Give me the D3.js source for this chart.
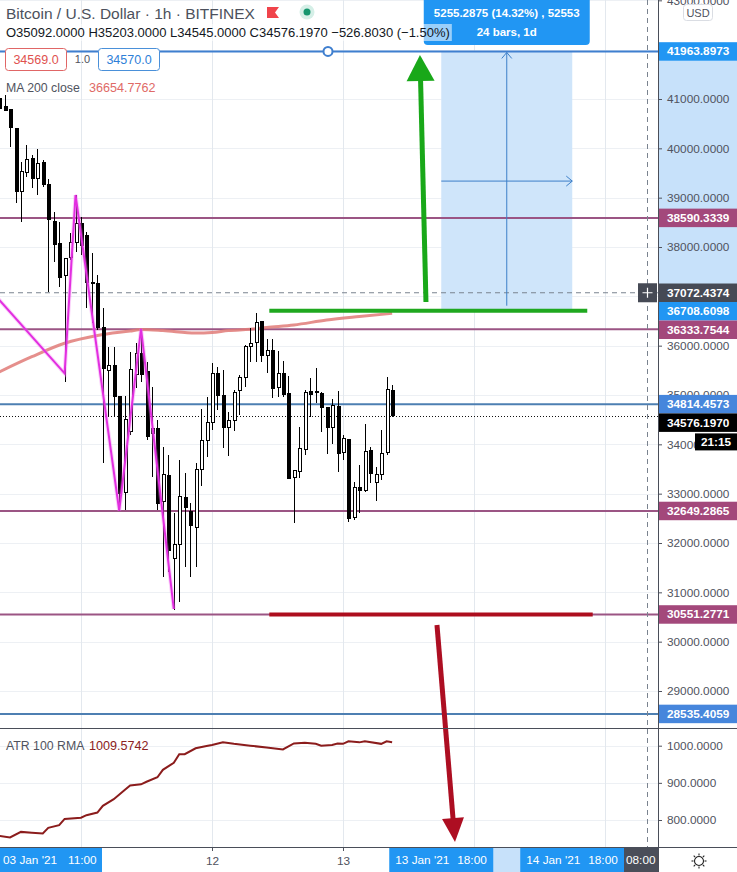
<!DOCTYPE html>
<html>
<head>
<meta charset="utf-8">
<script src="https://cdn.jsdelivr.net/npm/d3@7/dist/d3.min.js"></script>
<style>
html,body{margin:0;padding:0;background:#fff;}
svg{display:block;}
text{font-family:"Liberation Sans",Arial,sans-serif;}
</style>
</head>
<body>
<svg id="chart" width="737" height="872"></svg>
<script>
// ---------------- DATA ----------------
const candleStart = Date.UTC(2021, 0, 10, 9); // first visible 1h bar (10 Jan 09:00)
const opens  = [41014,40844,40791,40406,39121,39506,39798,39393,39709,39271,38527,38075,37418,37791,38095,38480,38223,37276,37264,36378,35493,35588,34966,33020,34256,35406,35845,35467,34224,34325,32838,33364,31676,31960,32918,32635,32314,33494,34074,34443,35426,35000,34351,34493,35087,35359,35979,36060,36486,35791,35912,35156,35426,35034,33332,33446,33899,35061,35041,35034,34751,34345,34777,33830,34102,32521,33129,33060,33885,33222,33379,33830,35092];
const highs  = [41081,41081,40791,40406,39729,40068,39865,39980,39764,39372,38716,38513,37771,38278,39054,38614,38310,37872,37432,36757,35973,35979,34966,34980,35878,36054,36333,35669,35168,34493,33952,33784,32608,33683,33413,32805,33616,34722,34960,35655,35574,35507,34655,35101,35405,36013,36352,36656,36506,36129,36129,35898,35695,35385,33480,34358,35101,35339,35541,35067,34763,34913,35087,34189,34102,33243,33581,34412,33952,33547,34291,35359,35203];
const lows   = [40540,40757,40021,38898,38513,39425,39190,39054,39222,37094,37702,37195,35270,37737,37905,37838,36757,36453,36318,33622,34560,34560,32649,32669,34189,35142,35270,34088,33344,32669,31317,31412,30650,30810,31520,31317,31520,33149,33749,34291,34696,33920,33757,34270,34595,35168,35675,35675,35675,35452,34933,34966,34953,33312,32412,33318,33784,34560,34832,34256,33804,34007,33433,33683,32432,32466,32602,33034,33222,32857,33277,33784,34545];
const closes = [40811,40763,40426,39121,39526,39778,39393,39697,39257,38561,38055,37386,37771,38087,38480,38040,37276,37264,36378,35541,35588,34966,33007,34507,35507,35845,35406,34155,34325,32805,33379,31858,31974,32939,32710,32355,33494,34068,34443,35426,34990,34351,34493,35057,35359,35979,36048,36466,35791,35912,35136,35426,35020,33312,33466,33906,35055,35020,35061,34751,34345,34791,33818,34122,32501,33129,33060,33851,33413,33379,33818,35103,34576.197];

const maIndex  = [0,6,12,18,24,26,30,36,39,42,46,49,54,60,66,72];
const maValues = [35466,35776,36048,36206,36297,36327,36307,36256,36267,36307,36331,36368,36419,36520,36591,36654.7762];

const zigIndex  = [-3,12,14,22,26,32];
const zigValues = [37300,35440,39054,32655,36340,30662];

const atrIndex  = [0,2,4,6,8,9,11,12,15,16,18,19,21,23,24,26,27,29,30,32,33,34,36,38,39,41,43,46,49,52,54,56,58,59,61,62,63,64,66,67,70,71,72];
const atrValues = [757,753,768,766,764,779,786,803,806,813,820,838,856,881,893,896,903,915,935,954,977,977,993,999,1002,1009,1005,1000,995,990,1006,1008,1005,1000,1002,1006,1005,1012,1009,1012,1005,1012,1009.5742];

const priceTicks = [29000,30000,31000,32000,33000,34000,35000,36000,37000,38000,39000,40000,41000,42000,43000];
const atrTicks   = [800,900,1000];
const dayTicks   = ["2021-01-11","2021-01-12","2021-01-13","2021-01-14","2021-01-15"];
const dayLabels  = ["2021-01-12","2021-01-13"];

const purpleLevels = [38590.3339, 36333.7544, 32649.2865, 30551.2771];
const blueLevels   = [41963.8973, 34814.4573, 28535.4059];

const measureTimes  = ["2021-01-13T18:00Z","2021-01-14T18:00Z"];
const measurePrices = [36708.6098, 41963.8973];
const measureText   = ["5255.2875 (14.32%) , 52553", "24 bars, 1d"];

const greenLineTimes = ["2021-01-12T10:30Z","2021-01-14T20:45Z"];
const redLineTimes   = ["2021-01-12T10:30Z","2021-01-14T21:45Z"];
const greenArrow = {times:["2021-01-13T15:12Z","2021-01-13T14:06Z"], prices:[36885,41892]};
const redArrow   = {times:["2021-01-13T17:13Z","2021-01-13T20:31Z"], prices:[30338,25939]};

const crossTime  = "2021-01-15T08:00Z";
const crossPrice = 37072.4374;
const handleTime = "2021-01-12T21:15Z";

// ---------------- SETUP ----------------
const svg = d3.select("#chart");
const PR = 658, MB = 728, AB = 847, W = 737, H = 872;
const HOUR = 3600e3;
const x  = d3.scaleUtc().domain([new Date(Date.UTC(2021,0,12)), new Date(Date.UTC(2021,0,13))]).range([212, 343]);
const y  = d3.scaleLinear().domain([29000, 41000]).range([691, 99]);
const ya = d3.scaleLinear().domain([800, 1000]).range([820, 745.7]);
const barTime = i => new Date(candleStart + i * HOUR);
const T = s => new Date(s);
const f4 = d3.format(".4f");
const AXT = "#50535e";

svg.append("rect").attr("width", W).attr("height", H).attr("fill", "#fff");
const defs = svg.append("defs");
defs.append("clipPath").attr("id","clipMain").append("rect").attr("x",0).attr("y",0).attr("width",PR).attr("height",MB);
defs.append("clipPath").attr("id","clipAtr").append("rect").attr("x",0).attr("y",MB+1).attr("width",PR).attr("height",AB-MB-1);

// ---------------- GRID ----------------
const grid = svg.append("g").attr("shape-rendering","crispEdges");
grid.append("g").attr("clip-path","url(#clipMain)").selectAll("line").data(priceTicks).join("line")
  .attr("x1",0).attr("x2",PR).attr("y1",d=>Math.round(y(d))+0.5).attr("y2",d=>Math.round(y(d))+0.5)
  .attr("stroke","#edf0f4");
grid.append("g").attr("clip-path","url(#clipAtr)").selectAll("line").data(atrTicks).join("line")
  .attr("x1",0).attr("x2",PR).attr("y1",d=>Math.round(ya(d))+0.5).attr("y2",d=>Math.round(ya(d))+0.5)
  .attr("stroke","#edf0f4");
grid.selectAll("line.v").data(dayTicks).join("line").attr("class","v")
  .attr("x1",d=>Math.round(x(T(d)))+0.5).attr("x2",d=>Math.round(x(T(d)))+0.5)
  .attr("y1",0).attr("y2",AB).attr("stroke","#e3e8ee");

// ---------------- MAIN PANE ----------------
const main = svg.append("g").attr("clip-path","url(#clipMain)");

// measure box
const mx0 = x(T(measureTimes[0])), mx1 = x(T(measureTimes[1]));
const my0 = y(measurePrices[0]), my1 = y(measurePrices[1]);
main.append("rect").attr("x",mx0).attr("y",my1).attr("width",mx1-mx0).attr("height",my0-my1)
  .attr("fill","#cfe5fa");

// horizontal levels
main.selectAll("line.pl").data(purpleLevels).join("line").attr("class","pl")
  .attr("x1",0).attr("x2",PR).attr("y1",d=>y(d)).attr("y2",d=>y(d))
  .attr("stroke","#9b5584").attr("stroke-width",2);
main.selectAll("line.bl").data(blueLevels).join("line").attr("class","bl")
  .attr("x1",0).attr("x2",PR).attr("y1",d=>y(d)).attr("y2",d=>y(d))
  .attr("stroke",(d,i)=> i===0 ? "#3f7fcf" : "#4d7fb2").attr("stroke-width",2);

// crosshair horizontal
main.append("line").attr("x1",0).attr("x2",PR).attr("y1",y(crossPrice)).attr("y2",y(crossPrice))
  .attr("stroke","#7a838f").attr("stroke-dasharray","5,4");

// MA 200
main.append("path").datum(maIndex.map((d,i)=>[x(barTime(d)), y(maValues[i])]))
  .attr("d", d3.line().curve(d3.curveMonotoneX))
  .attr("fill","none").attr("stroke","#e07b78").attr("stroke-width",3).attr("stroke-opacity",0.85);

// current price dotted line
const lastClose = closes[closes.length-1];
main.append("line").attr("x1",0).attr("x2",PR).attr("y1",Math.round(y(lastClose))+0.5).attr("y2",Math.round(y(lastClose))+0.5)
  .attr("stroke","#111").attr("stroke-dasharray","1,2");

// candles
const cg = main.append("g").attr("shape-rendering","crispEdges");
const candles = opens.map((o,i)=>({i,o,h:highs[i],l:lows[i],c:closes[i]}));
cg.selectAll("line").data(candles).join("line")
  .attr("x1",d=>Math.round(x(barTime(d.i)))+0.5).attr("x2",d=>Math.round(x(barTime(d.i)))+0.5)
  .attr("y1",d=>y(d.h)).attr("y2",d=>y(d.l)).attr("stroke","#000");
cg.selectAll("rect").data(candles).join("rect")
  .attr("x",d=>Math.round(x(barTime(d.i)))-1)
  .attr("width",3)
  .attr("y",d=>Math.min(y(d.o),y(d.c)))
  .attr("height",d=>Math.max(1,Math.abs(y(d.o)-y(d.c))))
  .attr("fill",d=>d.c>=d.o?"#fff":"#000").attr("stroke","#000").attr("stroke-width",1);

// zigzag
main.append("path").datum(zigIndex.map((d,i)=>[x(barTime(d)), y(zigValues[i])]))
  .attr("d", d3.line()).attr("fill","none").attr("stroke","#f07cf0").attr("stroke-width",4).attr("stroke-opacity",0.35);
main.append("path").datum(zigIndex.map((d,i)=>[x(barTime(d)), y(zigValues[i])]))
  .attr("d", d3.line()).attr("fill","none").attr("stroke","#e22ee0").attr("stroke-width",2);

// green and red trend lines
main.append("line").attr("x1",x(T(greenLineTimes[0]))).attr("x2",x(T(greenLineTimes[1])))
  .attr("y1",y(measurePrices[0])).attr("y2",y(measurePrices[0])).attr("stroke","#1fa81f").attr("stroke-width",4);
main.append("line").attr("x1",x(T(redLineTimes[0]))).attr("x2",x(T(redLineTimes[1])))
  .attr("y1",y(purpleLevels[3])).attr("y2",y(purpleLevels[3])).attr("stroke","#ad0e1e").attr("stroke-width",4);

// measure inner arrows
const mcx = (mx0+mx1)/2, mcy = (my0+my1)/2;
const ma = main.append("g").attr("stroke","#3d7fc8").attr("fill","none").attr("stroke-width",1);
ma.append("line").attr("x1",mcx).attr("x2",mcx).attr("y1",my0-5).attr("y2",my1+1);
ma.append("path").attr("d",`M${mcx-5},${my1+7}L${mcx},${my1+1}L${mcx+5},${my1+7}`);
ma.append("line").attr("x1",mx0).attr("x2",mx1).attr("y1",mcy).attr("y2",mcy);
ma.append("path").attr("d",`M${mx1-6},${mcy-5}L${mx1},${mcy}L${mx1-6},${mcy+5}`);

// handle circle
svg.append("circle").attr("cx",x(T(handleTime))).attr("cy",y(blueLevels[0])).attr("r",4.5)
  .attr("fill","#fff").attr("stroke","#3f7fcf").attr("stroke-width",2);

// ---------------- ATR PANE ----------------
const atrG = svg.append("g").attr("clip-path","url(#clipAtr)");
atrG.append("path").datum(atrIndex.map((d,i)=>[x(barTime(d)), ya(atrValues[i])]))
  .attr("d", d3.line()).attr("fill","none").attr("stroke","#8b1c1c").attr("stroke-width",2);

// crosshair vertical
svg.append("line").attr("x1",Math.round(x(T(crossTime)))-1.5).attr("x2",Math.round(x(T(crossTime)))-1.5)
  .attr("y1",0).attr("y2",AB).attr("stroke","#7a838f").attr("stroke-dasharray","5,4");

// ---------------- ARROWS ----------------
function arrow(a, color, headLen, headW, shaftW) {
  const p0 = [x(T(a.times[0])), y(a.prices[0])], p1 = [x(T(a.times[1])), y(a.prices[1])];
  const dx = p1[0]-p0[0], dy = p1[1]-p0[1], L = Math.hypot(dx,dy);
  const ux = dx/L, uy = dy/L, nx = -uy, ny = ux;
  const b = [p1[0]-ux*headLen, p1[1]-uy*headLen];
  svg.append("line").attr("x1",p0[0]).attr("y1",p0[1]).attr("x2",b[0]+ux*2).attr("y2",b[1]+uy*2)
    .attr("stroke",color).attr("stroke-width",shaftW);
  svg.append("path").attr("d",`M${p1[0]},${p1[1]}L${b[0]+nx*headW/2},${b[1]+ny*headW/2}L${b[0]-nx*headW/2},${b[1]-ny*headW/2}Z`)
    .attr("fill",color);
}
arrow(greenArrow, "#19a819", 26, 28, 5);
arrow(redArrow, "#ad0e22", 24, 22, 5);

// ---------------- LEGENDS ----------------
// measure tooltip
const tipG = svg.append("g");
tipG.append("rect").attr("x",mcx-83).attr("y",-6).attr("width",166).attr("height",51).attr("rx",4).attr("fill","#2196f3");
tipG.selectAll("text").data(measureText).join("text")
  .attr("x",mcx).attr("y",(d,i)=>17+i*19).attr("text-anchor","middle")
  .attr("fill","#fff").attr("font-size",11.5).attr("font-weight","bold").text(d=>d);

// header
const hdr = svg.append("g");
hdr.append("text").attr("x",6).attr("y",19).attr("font-size",15.5).attr("fill","#4c515c")
  .text("Bitcoin / U.S. Dollar · 1h · BITFINEX");
hdr.append("path").attr("d","M267,7H279L275,12.5L279,18H267Z").attr("fill","#f0444b");
hdr.append("circle").attr("cx",307).attr("cy",12).attr("r",7.5).attr("fill","#d5efe7");
hdr.append("circle").attr("cx",307).attr("cy",12).attr("r",3.5).attr("fill","#15966e");

const lc = closes.length-1;
const chg = closes[lc]-closes[lc-1], pct = chg/closes[lc-1]*100;
const fmtS = v => (v<0?"\u2212":"+") + d3.format(".4f")(Math.abs(v));
const ohlcText = `O${f4(opens[lc])} H${f4(highs[lc])} L${f4(lows[lc])} C${f4(closes[lc])} ${fmtS(chg)} (${(pct<0?"\u2212":"+")+Math.abs(pct).toFixed(2)}%)`;
const ohlcBg = hdr.append("rect");
const ohlcT = hdr.append("text").attr("x",6).attr("y",37).attr("font-size",13).attr("fill","#131722").text(ohlcText);
const bb = ohlcT.node().getBBox();
ohlcBg.attr("x",bb.x-2).attr("y",bb.y-1).attr("width",bb.width+4).attr("height",bb.height+2).attr("fill","#fff").attr("fill-opacity",0.55);

// buy/sell boxes
hdr.append("rect").attr("x",5.5).attr("y",48.5).attr("width",61).attr("height",22).attr("rx",3).attr("fill","#fff").attr("stroke","#e06666");
hdr.append("text").attr("x",36).attr("y",64).attr("text-anchor","middle").attr("font-size",12.5).attr("fill","#e0524f").text("34569.0");
hdr.append("text").attr("x",82.5).attr("y",63).attr("text-anchor","middle").attr("font-size",11).attr("fill","#50535e").text("1.0");
hdr.append("rect").attr("x",98.5).attr("y",48.5).attr("width",61).attr("height",22).attr("rx",3).attr("fill","#fff").attr("stroke","#4a90d9");
hdr.append("text").attr("x",129).attr("y",64).attr("text-anchor","middle").attr("font-size",12.5).attr("fill","#2f7fd8").text("34570.0");

// MA legend
hdr.append("text").attr("x",6).attr("y",92).attr("font-size",12.3).attr("fill","#50535e").text("MA 200 close");
hdr.append("text").attr("x",89).attr("y",92).attr("font-size",12.6).attr("fill","#e06a66").text(f4(maValues[maValues.length-1]));

// ATR legend
hdr.append("text").attr("x",6).attr("y",750).attr("font-size",12.3).attr("fill","#50535e").text("ATR 100 RMA");
hdr.append("text").attr("x",89).attr("y",750).attr("font-size",12.6).attr("fill","#8b2222").text(f4(atrValues[atrValues.length-1]));

// ---------------- PRICE AXIS ----------------
const axG = svg.append("g");
axG.append("rect").attr("x",PR).attr("y",0).attr("width",W-PR).attr("height",AB).attr("fill","#fff");
axG.append("rect").attr("x",PR+1).attr("y",my1).attr("width",W-PR-1).attr("height",my0-my1).attr("fill","#c7e1fa");

const yAxis = axG.append("g").attr("transform",`translate(${PR},0)`)
  .call(d3.axisRight(y).tickValues(priceTicks.filter(v=>y(v)<MB-5)).tickFormat(f4).tickSize(4).tickPadding(5));
yAxis.select(".domain").remove();
yAxis.selectAll("text").attr("font-size",11.8).attr("fill",AXT).attr("font-family","Liberation Sans, Arial, sans-serif");
yAxis.selectAll("line").attr("stroke",AXT);

const aAxis = axG.append("g").attr("transform",`translate(${PR},0)`)
  .call(d3.axisRight(ya).tickValues(atrTicks).tickFormat(f4).tickSize(4).tickPadding(5));
aAxis.select(".domain").remove();
aAxis.selectAll("text").attr("font-size",11.8).attr("fill",AXT).attr("font-family","Liberation Sans, Arial, sans-serif");
aAxis.selectAll("line").attr("stroke",AXT);

// USD box
axG.append("rect").attr("x",683.5).attr("y",4.5).attr("width",29).attr("height",16).attr("rx",3).attr("fill","#fff").attr("stroke","#dadde3");
axG.append("text").attr("x",698).attr("y",16.5).attr("text-anchor","middle").attr("font-size",11).attr("fill",AXT).text("USD");

// colored price labels
const labels = [
  {v:blueLevels[0], bg:"#2196f3"},
  {v:purpleLevels[0], bg:"#a3487b"},
  {v:crossPrice, bg:"#464a55"},
  {v:measurePrices[0], bg:"#2196f3"},
  {v:purpleLevels[1], bg:"#a3487b"},
  {v:blueLevels[1], bg:"#4686dc"},
  {v:lastClose, bg:"#000"},
  {v:purpleLevels[2], bg:"#a3487b"},
  {v:purpleLevels[3], bg:"#a3487b"},
  {v:blueLevels[2], bg:"#4686dc"}
].map(d=>({...d, cy:y(d.v)})).sort((a,b)=>a.cy-b.cy);
const LH = 18.5;
for (let k=1;k<labels.length;k++) if (labels[k].cy - labels[k-1].cy < LH) labels[k].cy = labels[k-1].cy + LH;
const lg = axG.selectAll("g.lab").data(labels).join("g").attr("class","lab");
lg.append("rect").attr("x",PR+1).attr("y",d=>d.cy-LH/2).attr("width",W-PR-1).attr("height",LH).attr("fill",d=>d.bg);
lg.append("text").attr("x",PR+9).attr("y",d=>d.cy+4).attr("font-size",11.8).attr("font-weight","bold").attr("fill","#fff").text(d=>f4(d.v));
const lastLab = labels.find(d=>d.v===lastClose);
axG.append("rect").attr("x",695).attr("y",lastLab.cy+LH/2+1.5).attr("width",W-695).attr("height",17).attr("fill","#000");
axG.append("text").attr("x",716).attr("y",lastLab.cy+LH/2+14.5).attr("text-anchor","middle").attr("font-size",11.8).attr("font-weight","bold").attr("fill","#fff").text("21:15");

// crosshair plus box
const cpy = y(crossPrice);
axG.append("rect").attr("x",638).attr("y",cpy-9.5).attr("width",19).attr("height",19).attr("fill","#464a55");
axG.append("path").attr("d",`M${647.5-5},${cpy}H${647.5+5}M647.5,${cpy-5}V${cpy+5}`).attr("stroke","#fff").attr("stroke-width",1.2);

// ---------------- TIME AXIS ----------------
const tG = svg.append("g");
tG.append("rect").attr("x",0).attr("y",AB).attr("width",W).attr("height",H-AB).attr("fill","#fff");
tG.append("rect").attr("x",mx0).attr("y",AB+1).attr("width",mx1-mx0).attr("height",H-AB-1).attr("fill","#c7e1fa");
const xAxis = tG.append("g").attr("transform",`translate(0,${AB})`)
  .call(d3.axisBottom(x).tickValues(dayLabels.map(T)).tickFormat(d3.utcFormat("%-d")).tickSize(4).tickPadding(6));
xAxis.select(".domain").remove();
xAxis.selectAll("text").attr("font-size",11.8).attr("fill",AXT).attr("font-family","Liberation Sans, Arial, sans-serif");
xAxis.selectAll("line").attr("stroke",AXT);

function timeBox(x0, w, bg, parts) {
  tG.append("rect").attr("x",x0).attr("y",AB+1).attr("width",w).attr("height",H-AB-1).attr("fill",bg);
  parts.forEach(p => tG.append("text").attr("x",x0+p[0]).attr("y",AB+17).attr("font-size",11.8).attr("fill","#fff").text(p[1]));
}
timeBox(0, 102, "#2196f3", [[3,"03 Jan '21"],[68,"11:00"]]);
timeBox(mx0-52, 104, "#2196f3", [[6,"13 Jan '21"],[68,"18:00"]]);
timeBox(mx1-52, 104, "#2196f3", [[6,"14 Jan '21"],[68,"18:00"]]);
timeBox(624, PR-624, "#4a4e59", [[2,"08:00"]]);

// sun icon
const sun = tG.append("g").attr("transform","translate(699,861)").attr("stroke","#222").attr("fill","none").attr("stroke-width",1.1);
sun.append("circle").attr("r",4.5);
d3.range(8).forEach(k=>{const a=k*Math.PI/4; sun.append("line").attr("x1",Math.cos(a)*5.5).attr("y1",Math.sin(a)*5.5).attr("x2",Math.cos(a)*7.5).attr("y2",Math.sin(a)*7.5);});

// ---------------- BORDERS ----------------
const bd = svg.append("g").attr("shape-rendering","crispEdges").attr("stroke","#4a4e59");
bd.append("line").attr("x1",PR+0.5).attr("x2",PR+0.5).attr("y1",0).attr("y2",H);
bd.append("line").attr("x1",0).attr("x2",W).attr("y1",MB+0.5).attr("y2",MB+0.5);
bd.append("line").attr("x1",0).attr("x2",W).attr("y1",AB+0.5).attr("y2",AB+0.5);
</script>
</body>
</html>
